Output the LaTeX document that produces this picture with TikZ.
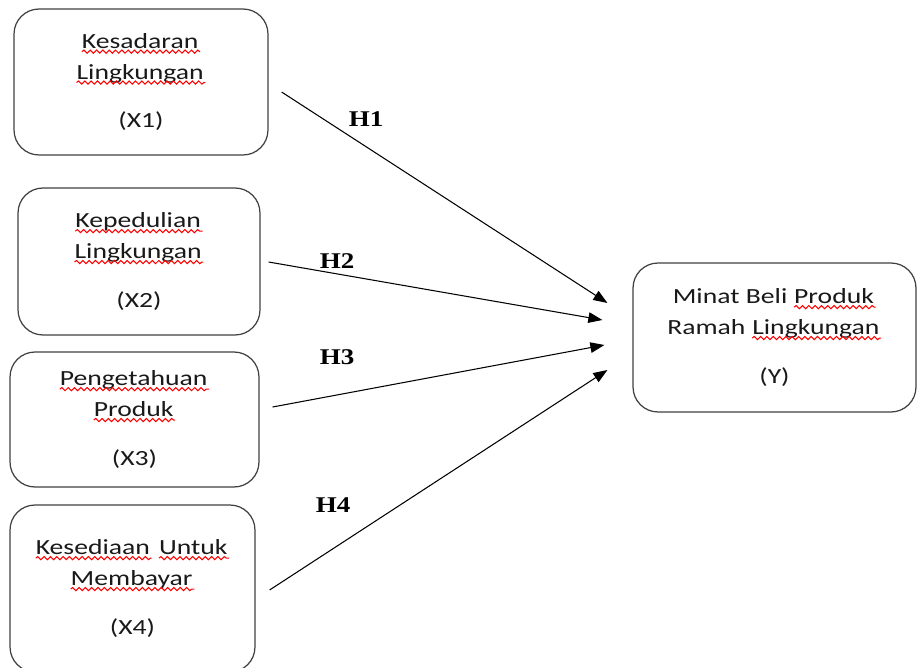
\documentclass[tikz,border=0pt]{standalone}
\usepackage{fontspec}
\setmainfont[FakeStretch=1.28]{Carlito}
\newfontfamily\hfont[FakeStretch=1.2]{Liberation Serif}
\usepackage{tikz}
\usetikzlibrary{
  arrows.meta,
  calc,
  decorations,
  decorations.pathmorphing
}

% 波線(スペルチェックの下線)
\tikzset{
  wordbox/.style={
      inner sep=0pt,
      outer sep=0pt,
      minimum width=0pt,
      minimum height=0pt,
      draw=none
    },
  squiggle/.style={
      red,
      line width=0.6pt,
      sharp corners,
      decorate,
      decoration={
          snake,
          amplitude=0.9pt,
          segment length=3.6pt
        }
    }
}
\newcommand{\wv}[1]{\tikz[baseline=(w.base)]{\node[wordbox] (w) {#1};\draw[squiggle] ([yshift=-1.9pt]w.base west) -- ([xshift=1pt,yshift=-1.9pt]w.base east);}}

\begin{document}
\begin{tikzpicture}[%詳細設定
          x=0.02cm,y=-0.02cm,
          var/.style={
              draw=black!75,
              line width=0.7pt,
              rounded corners=0.5cm,
              align=center,
              text=black!90,
              font=\fontsize{12.3}{17.6}\selectfont
            },
          hyp/.style={
              -{Triangle[length=8pt,width=6pt]},
              line width=0.6pt
            },
          hlab/.style={
              font=\hfont\bfseries\fontsize{12.8}{14}\selectfont
            }
        ]
        \clip (0,0) rectangle (918,668);

        % 変数の箱
        \node[var, minimum width=5.08cm, minimum height=2.92cm] (x1) at (141,82)
          {\wv{Kesadaran}\\\wv{Lingkungan}\\[10pt](X1)};
        \node[var, minimum width=4.84cm, minimum height=2.94cm] (x2) at (139,261.5)
          {\wv{Kepedulian}\\\wv{Lingkungan}\\[10pt](X2)};
        \node[var, minimum width=4.98cm, minimum height=2.70cm] (x3) at (134.5,419.5)
          {\wv{Pengetahuan}\\\wv{Produk}\\[10pt](X3)};
        \node[var, minimum width=4.90cm, minimum height=3.34cm] (x4) at (132.5,588.5)
          {\wv{Kesediaan} \wv{Untuk}\\\wv{Membayar}\\[10pt](X4)};
        \node[var, minimum width=5.66cm, minimum height=2.98cm] (y) at (774.5,337.5)
          {Minat Beli \wv{Produk}\\Ramah \wv{Lingkungan}\\[10pt](Y)};

        % 仮説の矢印
        \draw[hyp] ($(x1.east)+(13,10)$) -- ($(y.west)+(-25,-34.5)$);
        \draw[hyp] ($(x2.east)+(8,0.5)$) -- ($(y.west)+(-30,-17.5)$);
        \draw[hyp] ($(x3.east)+(13,-12.5)$) -- ($(y.west)+(-28,7.5)$);
        \draw[hyp] ($(x4.east)+(14,1.5)$) -- ($(y.west)+(-25,32.5)$);

        % ラベル
        \node[hlab] (h1) at (366,119) {H1};
        \node[hlab] (h2) at (337,261) {H2};
        \node[hlab] (h3) at (337,357) {H3};
        \node[hlab] (h4) at (333,505) {H4};
      \end{tikzpicture}
\end{document}
